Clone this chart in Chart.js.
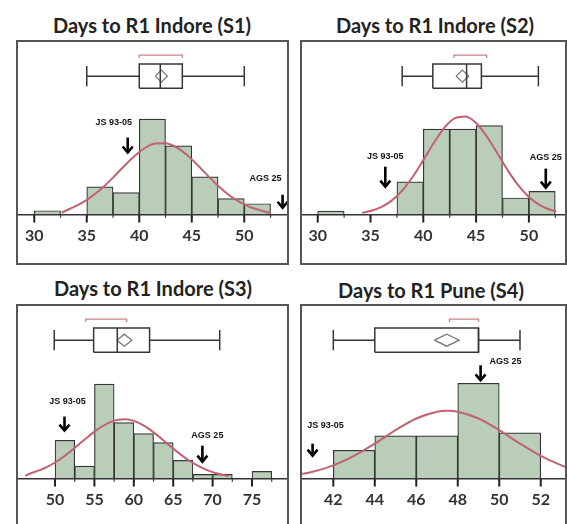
<!DOCTYPE html>
<html>
<head>
<meta charset="utf-8">
<script src="https://cdn.jsdelivr.net/npm/chart.js@4.4.1/dist/chart.umd.min.js"></script>
<style>
    html, body { margin: 0; padding: 0; background: #fff; }
    body { width: 567px; height: 524px; position: relative; overflow: hidden; font-family: Lato, "Open Sans", sans-serif; }
    .title { position: absolute; width: 280px; text-align: center; font-weight: bold; font-size: 20px; line-height: 24px; color: #222; }
    .panel { position: absolute; border: 2px solid #555; box-sizing: border-box; height: 225px; }
    .panel canvas { position: absolute; left: 0; top: 0; }
</style>
</head>
<body>
<div class="title" style="left:12px; top:13px;">Days to R1 Indore (S1)</div>
<div class="title" style="left:295px; top:13px;">Days to R1 Indore (S2)</div>
<div class="title" style="left:13px; top:276px;">Days to R1 Indore (S3)</div>
<div class="title" style="left:291px; top:278px;">Days to R1 Pune (S4)</div>

<div class="panel" style="left:16px; top:40px; width:273px;"><canvas id="s1" width="269" height="221"></canvas></div>
<div class="panel" style="left:300px; top:40px; width:267px;"><canvas id="s2" width="263" height="221"></canvas></div>
<div class="panel" style="left:16px; top:304px; width:273px;"><canvas id="s3" width="269" height="221"></canvas></div>
<div class="panel" style="left:300px; top:304px; width:267px;"><canvas id="s4" width="263" height="221"></canvas></div>

<script>
    // Values. Frequencies are bar heights in relative units.
    var genotypes = ['JS 93-05', 'AGS 25'];

    // S1 - Indore
    var s1BinStart = [30, 32.5, 35, 37.5, 40, 42.5, 45, 47.5, 50];
    var s1Freq = [4, 0, 27.7, 22, 95.3, 68.7, 37.7, 16, 11];
    var s1CurveX = [32.6, 33.5, 34.5, 35.5, 36.5, 37.5, 38.5, 39.5, 40.5, 41.5, 42.5, 43.5, 44.5, 45.5, 46.5, 47.5, 48.5, 49.5, 50.5, 51.5, 52.4];
    var s1CurveY = [2, 6.5, 11.5, 18.4, 26.9, 37, 47.8, 58, 66.2, 70.9, 71.3, 67.4, 59.9, 50, 39.2, 28.8, 19.9, 13, 7.9, 4.5, 2];
    var s1Box = [35, 40, 42, 44.1, 50]; // whisker low, q1, median, q3, whisker high
    var s1Mean = [42.1, 0.57];         // mean, half width of diamond
    var s1ShortHalf = [40, 44.1];
    var s1Ticks = [30, 35, 40, 45, 50];
    var s1Genotype = [38.9, 53.65];

    // S2 - Indore
    var s2BinStart = [30, 32.5, 35, 37.5, 40, 42.5, 45, 47.5, 50];
    var s2Freq = [3.7, 0, 0, 32.7, 85.3, 85.3, 88.7, 16.7, 23.3];
    var s2CurveX = [34.2, 35, 36, 37, 38, 39, 40, 41, 42, 43, 44, 45, 46, 47, 48, 49, 50, 51, 52, 52.6];
    var s2CurveY = [2, 3.7, 7.6, 14.1, 24.1, 37.8, 54.4, 71.7, 86.8, 96.2, 97.9, 91.4, 78.2, 61.4, 44.2, 29.2, 17.7, 9.8, 5, 3.2];
    var s2Box = [38, 40.9, 44.1, 45.5, 50.9];
    var s2Mean = [43.7, 0.6];
    var s2ShortHalf = [42.9, 46];
    var s2Ticks = [30, 35, 40, 45, 50];
    var s2Genotype = [36.4, 51.6];

    // S3 - Indore
    var s3BinStart = [50, 52.5, 55, 57.5, 60, 62.5, 65, 67.5, 70, 72.5, 75];
    var s3Freq = [38.3, 12.7, 94.3, 56, 45, 36, 18.3, 4.3, 4.3, 0, 7.3];
    var s3CurveX = [46.2, 47, 48, 49, 50, 51, 52, 53, 54, 55, 56, 57, 58, 59, 60, 61, 62, 63, 64, 65, 66, 67, 68, 69, 70, 71, 72];
    var s3CurveY = [3, 5.7, 8.3, 11.8, 16.2, 21.4, 27.5, 34, 40.6, 46.9, 52.3, 56.4, 58.8, 59.2, 57.6, 54.2, 49.2, 43.2, 36.6, 30, 23.8, 18.2, 13.5, 9.6, 6.6, 4.4, 2.8];
    var s3Box = [49.9, 54.9, 57.9, 62, 70.9];
    var s3Mean = [58.8, 0.95];
    var s3ShortHalf = [53.9, 59.1];
    var s3Ticks = [50, 55, 60, 65, 70, 75];
    var s3Genotype = [51.2, 68.7];

    // S4 - Pune
    var s4BinStart = [42, 44, 46, 48, 50];
    var s4Freq = [28.3, 42.7, 42.7, 95, 45.7];
    var s4CurveX = [40.5, 41, 42, 43, 44, 45, 46, 47, 47.5, 48, 49, 50, 51, 52, 53, 53.2];
    var s4CurveY = [4.9, 7, 13.3, 22.8, 35, 48.4, 60, 66.8, 67.7, 66.8, 60, 48.4, 35, 22.8, 13.3, 11.8];
    var s4Box = [42, 44, 49, 49, 51];
    var s4Mean = [47.47, 0.6];
    var s4ShortHalf = [47.6, 49];
    var s4Ticks = [42, 44, 46, 48, 50, 52];
    var s4Genotype = [41, 49.1];

    // Layout: the y scale has one unit per pixel; 0 is the axis line, ticks hang below it.
    var Y_MAX = 172;
    var TICK_LEN = 8, MINOR_LEN = 3;
    var BOX_MID = 138, BOX_H = 12, CAP_H = 10, DIAMOND_H = 6;
    var BRACKET_Y = 159, BRACKET_DROP = 3;

    var BAR_FILL = '#b9cdb9';
    var EDGE = '#363636';
    var CURVE = 'rgb(193, 98, 112)';

    function pts(xs, ys) {
        return xs.map(function (x, i) {
            return {x: x, y: ys[i]};
        });
    }

    // Several straight segments in one dataset, split by null points.
    function segments(list) {
        var out = [];
        list.forEach(function (s, i) {
            if (i > 0) {
                out.push({x: s[0], y: null});
            }
            out.push({x: s[0], y: s[1]}, {x: s[2], y: s[3]});
        });
        return out;
    }

    function lineSet(data, color, width) {
        return {
            type: 'line',
            data: data,
            borderColor: color,
            borderWidth: width,
            pointRadius: 0,
            fill: false,
            tension: 0,
            spanGaps: false,
            borderJoinStyle: 'miter',
            order: 0
        };
    }

    // Arrow and genotype name drawn on the x scale.
    function genotypeMarkers(values, layout) {
        return {
            id: 'genotypeMarkers',
            afterDatasetsDraw: function (chart) {
                var ctx = chart.ctx;
                var xs = chart.scales.x, ys = chart.scales.y;
                values.forEach(function (v, i) {
                    var lay = layout[i];
                    var px = xs.getPixelForValue(v);
                    var tip = ys.getPixelForValue(lay.tip);
                    ctx.save();
                    ctx.strokeStyle = '#000';
                    ctx.lineWidth = 2.6;
                    ctx.beginPath();
                    ctx.moveTo(px, tip - lay.len);
                    ctx.lineTo(px, tip - 1);
                    ctx.stroke();
                    ctx.beginPath();
                    ctx.moveTo(px - 5, tip - 6);
                    ctx.lineTo(px, tip);
                    ctx.lineTo(px + 5, tip - 6);
                    ctx.stroke();
                    ctx.fillStyle = '#111';
                    ctx.font = 'bold 9px "Liberation Sans", Arial, sans-serif';
                    ctx.textAlign = 'center';
                    ctx.textBaseline = 'middle';
                    ctx.fillText(genotypes[i], px + lay.dx, ys.getPixelForValue(lay.label));
                    ctx.restore();
                });
            }
        };
    }

    function drawPanel(id, p) {
        var bars = p.bins.map(function (b, i) {
            return {x: b + p.width / 2, y: p.freq[i]};
        });
        var edges = p.bins.concat([p.bins[p.bins.length - 1] + p.width]);
        var b = p.box;
        var lo = BOX_MID - BOX_H, hi = BOX_MID + BOX_H;
        var axisLine = [{x: p.min, y: 0}, {x: p.max, y: 0}];
        var tickLines = segments(p.ticks.map(function (t) {
            return [t, 0, t, -TICK_LEN];
        }));
        var minorLines = segments(edges.map(function (e) {
            return [e, 0, e, -MINOR_LEN];
        }));

        new Chart(document.getElementById(id), {
            type: 'bar',
            data: {
                datasets: [
                    lineSet(axisLine, '#333', 1.6),
                    lineSet(tickLines, '#222', 2),
                    lineSet(minorLines, '#333', 1.2),
                    lineSet(segments([
                        [b[0], BOX_MID, b[1], BOX_MID],
                        [b[3], BOX_MID, b[4], BOX_MID],
                        [b[0], BOX_MID - CAP_H, b[0], BOX_MID + CAP_H],
                        [b[4], BOX_MID - CAP_H, b[4], BOX_MID + CAP_H],
                        [b[2], lo, b[2], hi]
                    ]), EDGE, 1.5),
                    lineSet([
                        {x: b[1], y: lo}, {x: b[3], y: lo}, {x: b[3], y: hi}, {x: b[1], y: hi}, {x: b[1], y: lo}
                    ], EDGE, 1.5),
                    lineSet([
                        {x: p.mean[0] - p.mean[1], y: BOX_MID},
                        {x: p.mean[0], y: BOX_MID + DIAMOND_H},
                        {x: p.mean[0] + p.mean[1], y: BOX_MID},
                        {x: p.mean[0], y: BOX_MID - DIAMOND_H},
                        {x: p.mean[0] - p.mean[1], y: BOX_MID}
                    ], '#777', 1.3),
                    lineSet([
                        {x: p.shortHalf[0], y: BRACKET_Y - BRACKET_DROP},
                        {x: p.shortHalf[0], y: BRACKET_Y},
                        {x: p.shortHalf[1], y: BRACKET_Y},
                        {x: p.shortHalf[1], y: BRACKET_Y - BRACKET_DROP}
                    ], 'rgba(193, 98, 112, 0.8)', 1.3),
                    {
                        type: 'line',
                        data: pts(p.curveX, p.curveY),
                        borderColor: CURVE,
                        borderWidth: 2,
                        pointRadius: 0,
                        fill: false,
                        cubicInterpolationMode: 'monotone',
                        order: 1
                    },
                    {
                        type: 'bar',
                        data: bars,
                        backgroundColor: BAR_FILL,
                        borderColor: EDGE,
                        borderWidth: 1.2,
                        barPercentage: 1,
                        categoryPercentage: 1,
                        grouped: false,
                        order: 2
                    }
                ]
            },
            options: {
                responsive: false,
                animation: false,
                devicePixelRatio: 1,
                layout: {padding: {left: 0, right: 0, top: 0, bottom: 15}},
                plugins: {
                    legend: {display: false},
                    tooltip: {enabled: false}
                },
                scales: {
                    x: {
                        type: 'linear',
                        min: p.min,
                        max: p.max,
                        offset: false,
                        afterBuildTicks: function (scale) {
                            scale.ticks = p.ticks.map(function (v) {
                                return {value: v};
                            });
                        },
                        grid: {display: false, drawTicks: false},
                        border: {display: false},
                        ticks: {
                            autoSkip: false,
                            maxRotation: 0,
                            padding: 3,
                            color: '#333',
                            font: {family: 'Lato', weight: 'bold', size: 16}
                        }
                    },
                    y: {
                        display: false,
                        min: -TICK_LEN,
                        max: Y_MAX
                    }
                }
            },
            plugins: [genotypeMarkers(p.genotype, p.markers)]
        });
    }

    drawPanel('s1', {
        bins: s1BinStart, width: 2.5, freq: s1Freq, curveX: s1CurveX, curveY: s1CurveY,
        box: s1Box, mean: s1Mean, shortHalf: s1ShortHalf, ticks: s1Ticks, genotype: s1Genotype,
        min: 28.45, max: 54.07,
        markers: [{tip: 62, len: 15, label: 92, dx: -14}, {tip: 7, len: 13, label: 36, dx: -17}]
    });
    drawPanel('s2', {
        bins: s2BinStart, width: 2.5, freq: s2Freq, curveX: s2CurveX, curveY: s2CurveY,
        box: s2Box, mean: s2Mean, shortHalf: s2ShortHalf, ticks: s2Ticks, genotype: s2Genotype,
        min: 28.51, max: 53.42,
        markers: [{tip: 28, len: 20, label: 58, dx: 0}, {tip: 27, len: 19, label: 57, dx: 0}]
    });
    drawPanel('s3', {
        bins: s3BinStart, width: 2.5, freq: s3Freq, curveX: s3CurveX, curveY: s3CurveY,
        box: s3Box, mean: s3Mean, shortHalf: s3ShortHalf, ticks: s3Ticks, genotype: s3Genotype,
        min: 45.3, max: 79.44,
        markers: [{tip: 48, len: 14, label: 77, dx: 3}, {tip: 17, len: 16, label: 43, dx: 5}]
    });
    drawPanel('s4', {
        bins: s4BinStart, width: 2, freq: s4Freq, curveX: s4CurveX, curveY: s4CurveY,
        box: s4Box, mean: s4Mean, shortHalf: s4ShortHalf, ticks: s4Ticks, genotype: s4Genotype,
        min: 40.49, max: 53.17,
        markers: [{tip: 23, len: 12, label: 53, dx: 13}, {tip: 98, len: 15, label: 117, dx: 25}]
    });
</script>
</body>
</html>
